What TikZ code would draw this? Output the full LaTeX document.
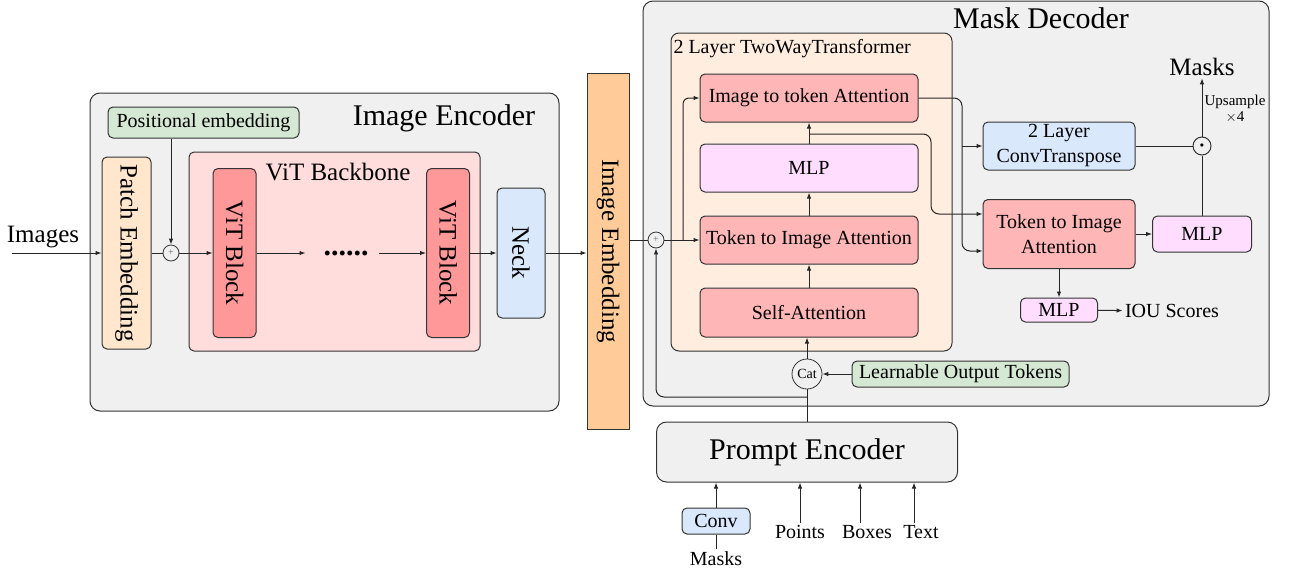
\documentclass[tikz,border=0pt]{standalone}
\usepackage{fontspec}
\setmainfont{Liberation Serif}
\usepackage{graphicx}
\usepackage{tikz}
\usetikzlibrary{arrows.meta,positioning,calc}

\newcommand{\fontTitle}{\fontsize{30}{34}\selectfont}
\newcommand{\fontMid}{\fontsize{25}{29}\selectfont}
\newcommand{\fontBody}{\fontsize{20}{25}\selectfont}
\newcommand{\fontNote}{\fontsize{15}{16}\selectfont}
\newcommand{\fontCat}{\fontsize{14}{16}\selectfont}

\definecolor{encgray}{HTML}{F0F0F0}
\definecolor{posgreen}{HTML}{D5E8D4}
\definecolor{patchorange}{HTML}{FFE6CC}
\definecolor{backpink}{HTML}{FFDDDD}
\definecolor{vitred}{HTML}{FF9999}
\definecolor{neckblue}{HTML}{DAE8FC}
\definecolor{embedorange}{HTML}{FFCC99}
\definecolor{twowaycream}{HTML}{FFEEDF}
\definecolor{attnred}{HTML}{FFB6B6}
\definecolor{mlppink}{HTML}{FFDDFF}

\tikzset{
  blk/.style={draw=black!80, line width=1pt, rounded corners=5pt, inner sep=0pt, align=center, font=\fontBody},
  outer/.style={blk, fill=encgray, rounded corners=10pt},
  summ/.style={circle, draw=black!80, line width=0.8pt, minimum size=16pt, inner sep=0pt, font=\fontsize{10}{10}\selectfont, text=black!60},
  lbl/.style={inner sep=2pt, font=\fontBody}
}

\begin{document}
\begin{tikzpicture}[x=1pt, y=-1pt, line width=1pt, draw=black!85, >={Latex[length=6pt,width=4.5pt]}]
\useasboundingbox (0,0) rectangle (1290,571);
%outer boxes
\node[outer, minimum width=469pt, minimum height=318pt] (imgenc) at (324.5,252) {};
\node[font=\fontTitle, inner sep=0pt] (imgenctitle) at (444,118) {Image Encoder};
\node[outer, minimum width=626pt, minimum height=405pt] (maskdec) at (956,203.5) {};
\node[font=\fontTitle, inner sep=0pt] (maskdectitle) at (1041,18) {Mask Decoder};
\node[outer, minimum width=301pt, minimum height=60pt, font=\fontTitle] (prompt) at (807,452) {Prompt Encoder};
%image encoder
\node[lbl, font=\fontMid] (images) at (43,237) {Images};
\coordinate (imgin) at (12,253);
\node[blk, fill=posgreen, minimum width=191pt, minimum height=31pt] (posemb) at (203.5,122.5) {Positional embedding};
\node[blk, fill=patchorange, minimum width=49pt, minimum height=192pt, font=\fontMid] (patch) at (126.5,253) {\rotatebox{-90}{Patch Embedding}};
\node[summ] (plusA) at (171,253) {+};
\node[blk, fill=backpink, minimum width=291pt, minimum height=199pt] (backbone) at (334.5,251.5) {};
\node[inner sep=0pt, font=\fontMid] (backbonetitle) at (338,172) {ViT Backbone};
\node[blk, fill=vitred, minimum width=43pt, minimum height=169pt, font=\fontMid] (vit1) at (234.5,253) {\rotatebox{-90}{ViT Block}};
\node[inner sep=0pt, font=\fontsize{30}{30}\selectfont\bfseries] (dots) at (346,253) {......};
\node[blk, fill=vitred, minimum width=43pt, minimum height=169pt, font=\fontMid] (vit2) at (448,253) {\rotatebox{-90}{ViT Block}};
\node[blk, fill=neckblue, minimum width=48pt, minimum height=130pt, font=\fontMid] (neck) at (521,253) {\rotatebox{-90}{Neck}};
\node[blk, rounded corners=0pt, fill=embedorange, minimum width=42pt, minimum height=356pt, font=\fontMid] (imgemb) at (608,251) {\rotatebox{-90}{Image Embedding}};
%encoder arrows
\draw[->] (imgin) -- (patch);
\draw (patch) -- (plusA);
\draw[->] (posemb.south -| plusA) -- (plusA);
\draw[->] (plusA) -- (vit1);
\draw[->, shorten >=17.5pt] (vit1) -- (dots);
\draw[->, shorten <=9.5pt] (dots) -- (vit2);
\draw[->] (vit2) -- (neck);
\draw[->] (neck) -- (neck -| imgemb.west);
%two way transformer
\node[blk, fill=twowaycream, rounded corners=8pt, minimum width=281pt, minimum height=318pt] (twoway) at (811.5,192) {};
\node[inner sep=0pt, anchor=west, font=\fontBody] (twowaytitle) at (673,49) {2 Layer TwoWayTransformer};
\node[blk, fill=attnred, minimum width=218pt, minimum height=48pt] (i2t) at (809,98) {Image to token Attention};
\node[blk, fill=mlppink, minimum width=218pt, minimum height=48pt] (mlpA) at (809,168) {MLP};
\node[blk, fill=attnred, minimum width=218pt, minimum height=48pt] (t2i) at (809,240) {Token to Image Attention};
\node[blk, fill=attnred, minimum width=218pt, minimum height=49pt] (selfatt) at (809,312.5) {Self-Attention};
\node[summ] (plusB) at (656,240) {+};
\node[summ, minimum size=30pt, font=\fontCat, text=black] (cat) at (807,374) {Cat};
\node[blk, fill=posgreen, minimum width=217pt, minimum height=26pt] (learn) at (960.5,374) {Learnable Output Tokens};
\coordinate (splitB) at (683,240);
\coordinate (tapA) at (809,134);
\coordinate (tapB) at (962,146);
\coordinate (loopB) at (807,397);
%decoder head
\node[blk, fill=neckblue, minimum width=152pt, minimum height=48pt] (convT) at (1059,146) {2 Layer\\ConvTranspose};
\node[blk, fill=attnred, minimum width=152pt, minimum height=69pt] (t2iB) at (1059,234) {Token to Image\\Attention};
\node[blk, fill=mlppink, minimum width=99pt, minimum height=36pt] (mlpB) at (1202,234) {MLP};
\node[blk, fill=mlppink, minimum width=77pt, minimum height=24pt] (mlpC) at (1059,310) {MLP};
\node[lbl] (iou) at (1172,311) {IOU Scores};
\node[circle, draw=black!80, line width=1pt, minimum size=18pt, inner sep=0pt, font=\fontsize{8}{8}\selectfont] (odot) at (1202,146) {$\bullet$};
\node[lbl, font=\fontMid] (maskstop) at (1202,67) {Masks};
\node[inner sep=0pt, align=center, font=\fontNote] (upsample) at (1235,109) {Upsample\\$\times$4};
%decoder arrows
\draw (imgemb.east |- plusB) -- (plusB);
\draw[->] (plusB) -- (t2i);
\draw[->, rounded corners=6pt] (splitB) |- (i2t.west);
\draw[->] (selfatt) -- (t2i);
\draw[->] (t2i) -- (mlpA);
\draw[->] (mlpA) -- (i2t);
\draw[->, rounded corners=8pt] (tapA) -- ++(122,0) |- ([yshift=20pt]t2iB.west);
\draw[->, rounded corners=8pt] (i2t.east) -| (tapB) |- ([yshift=-17pt]t2iB.west);
\draw[->] (tapB) -- (tapB -| convT.west);
\draw (convT) -- (odot);
\draw[->] (t2iB) -- (mlpB);
\draw (mlpB) -- (odot);
\draw[->] (odot) -- (maskstop);
\draw[->] (t2iB) -- (mlpC);
\draw[->] (mlpC) -- (iou);
\draw[->] (learn) -- (cat);
\draw[->] (cat) -- (cat |- selfatt.south);
\draw (prompt) -- (cat);
\draw[->, rounded corners=8pt] (loopB) -| (plusB.south);
%prompt inputs
\node[blk, fill=neckblue, minimum width=68pt, minimum height=26pt] (conv) at (716,521) {Conv};
\node[lbl] (masksbot) at (716,559) {Masks};
\node[lbl] (points) at (800,532) {Points};
\node[lbl] (boxes) at (867,532) {Boxes};
\node[lbl] (textin) at (921,532) {Text};
\draw[->] (conv) -- (conv |- prompt.south);
\draw (masksbot) -- (conv);
\draw[->] (points) -- (points |- prompt.south);
\draw[->] ([xshift=-7pt]boxes.north) -- ([xshift=-7pt]boxes.north |- prompt.south);
\draw[->] ([xshift=-7pt]textin.north) -- ([xshift=-7pt]textin.north |- prompt.south);
\end{tikzpicture}
\end{document}
